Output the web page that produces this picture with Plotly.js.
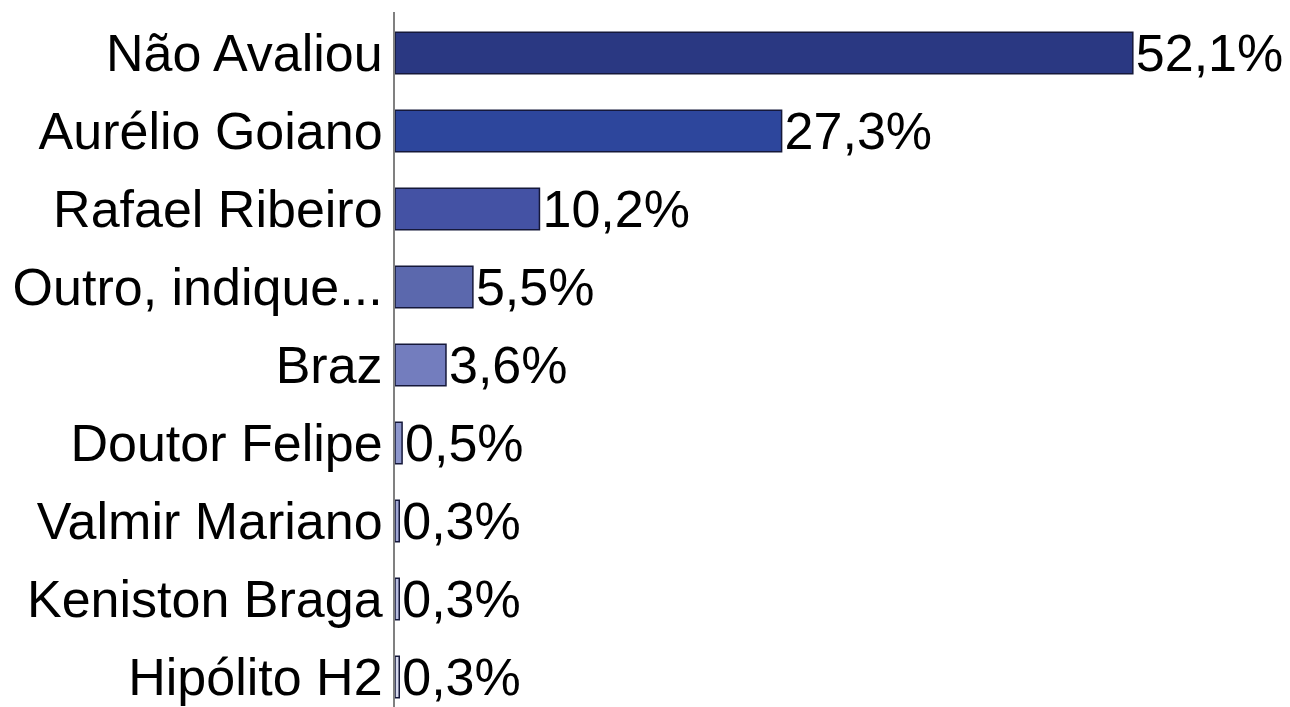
<!DOCTYPE html>
<html>
<head>
<meta charset="utf-8">
<script src="https://cdn.plot.ly/plotly-3.0.1.min.js"></script>
<style>html,body{margin:0;padding:0;background:#fff;}#chart{width:1290px;height:707px;}</style>
</head>
<body>
<div id="chart"></div>
<script>
const categories = ["Não Avaliou", "Aurélio Goiano", "Rafael Ribeiro", "Outro, indique...", "Braz", "Doutor Felipe", "Valmir Mariano", "Keniston Braga", "Hipólito H2"];
const values = [52.1, 27.3, 10.2, 5.5, 3.6, 0.5, 0.3, 0.3, 0.3];
const labels = ["52,1%", "27,3%", "10,2%", "5,5%", "3,6%", "0,5%", "0,3%", "0,3%", "0,3%"];
const colors = ["#2a3882", "#2d469c", "#4452a4", "#5b68ad", "#737dbe", "#8d96cc", "#a0a6d4", "#b8bde0", "#d6d9ee"];

const font = "Liberation Sans, Arial, sans-serif";
Plotly.newPlot("chart", [{
  type: "bar",
  orientation: "h",
  y: categories,
  x: values,
  text: labels,
  textposition: "outside",
  constraintext: "none",
  textfont: {family: font, size: 52, color: "#000"},
  cliponaxis: false,
  marker: {color: colors, line: {color: "#15183a", width: 1.5}},
  width: 0.53,
  hoverinfo: "none"
}], {
  width: 1290, height: 707,
  margin: {l: 395, r: 0, t: 12, b: 0, pad: 0},
  paper_bgcolor: "#fff", plot_bgcolor: "#fff",
  showlegend: false,
  font: {family: font, color: "#000"},
  xaxis: {range: [0, 63.2], visible: false, fixedrange: true},
  yaxis: {
    type: "category",
    range: [8.385, -0.526],
    showgrid: false, zeroline: false,
    showline: true, linecolor: "#808080", linewidth: 2,
    ticks: "", ticklabelstandoff: 0,
    tickfont: {family: font, size: 52, color: "#000"},
    fixedrange: true
  }
}, {staticPlot: true, displayModeBar: false});
</script>
</body>
</html>
